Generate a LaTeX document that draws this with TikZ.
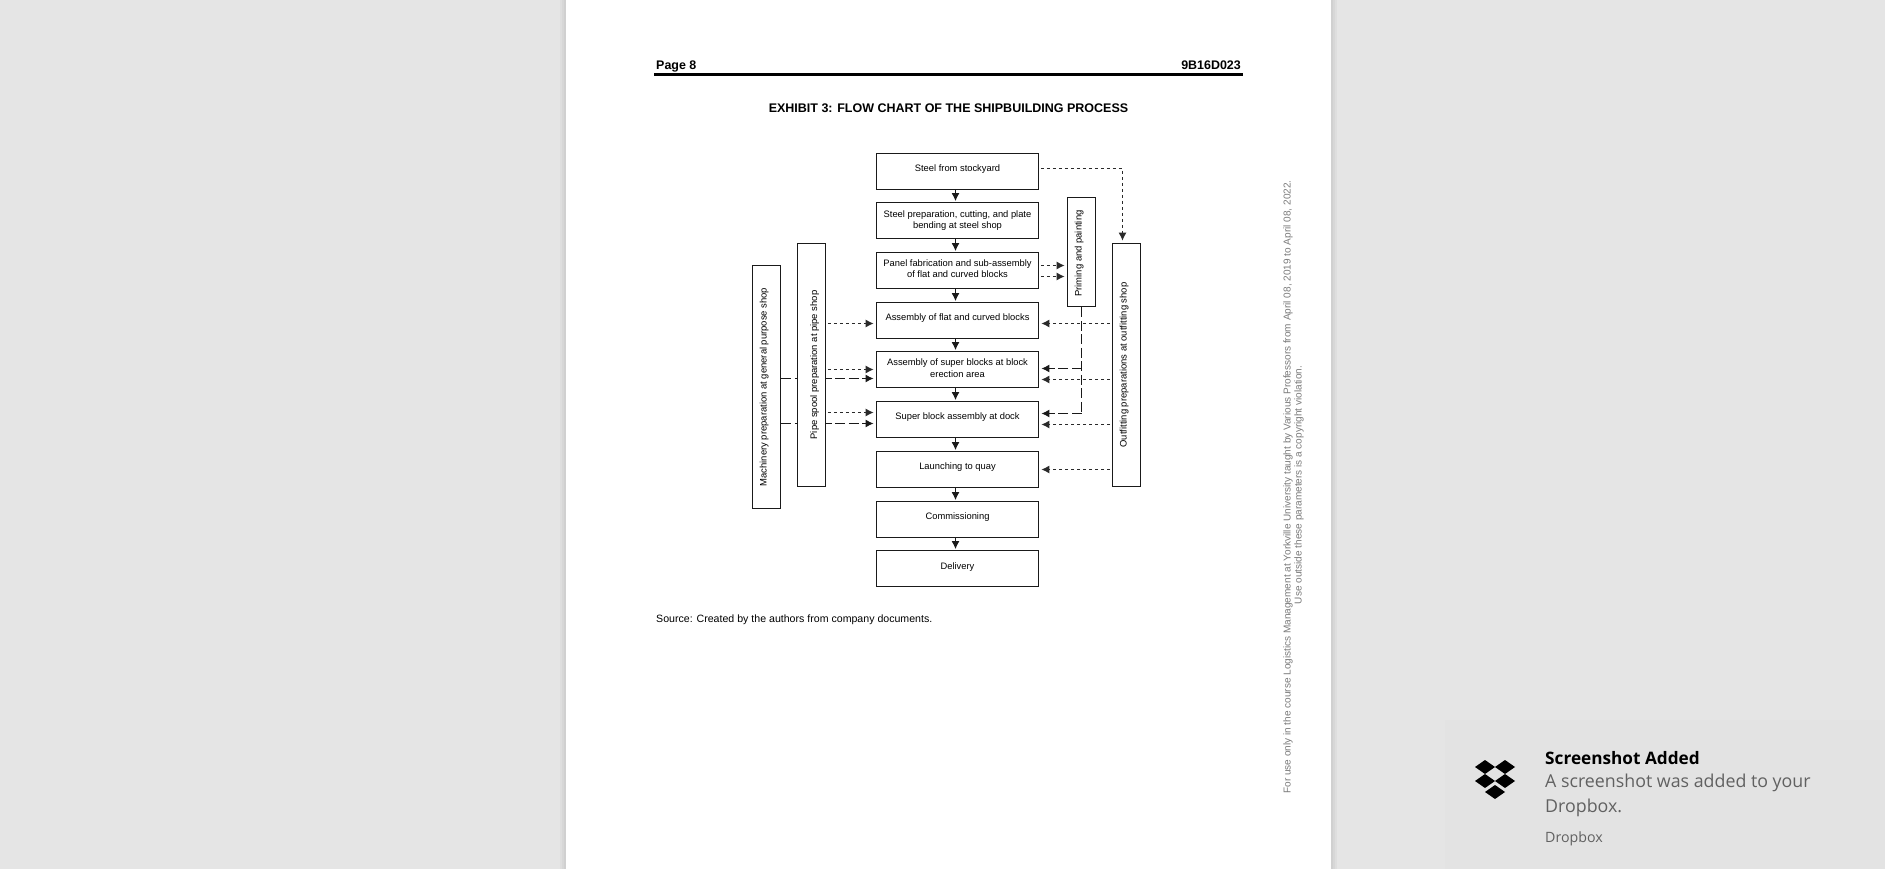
\documentclass[tikz,border=0pt]{standalone}
\usepackage{fontspec}
\setmainfont{Liberation Sans}
\newfontfamily\toastfont{Open Sans}
\usetikzlibrary{arrows.meta}
\definecolor{bggray}{HTML}{E5E5E5}
\definecolor{toastgray}{HTML}{E3E3E3}
\definecolor{inkc}{HTML}{1A1A1A}
\definecolor{dashc}{HTML}{2A2A2A}
\tikzset{
  x=1pt,y=-1pt,
  box/.style={draw=inkc,line width=1.6pt,fill=white,inner sep=0pt,font=\fontsize{9.35}{11}\selectfont,text=black},
  mainone/.style={box,minimum width=162pt,minimum height=36pt,text depth=8pt,text height=8pt},
  maintwo/.style={box,minimum width=162pt,minimum height=36pt,align=center,text depth=3pt},
  sidebox/.style={box,minimum height=28pt,rotate=90,text depth=8pt,text height=8pt,font=\fontsize{9.45}{11}\selectfont},
  flow/.style={draw=inkc,line width=1.5pt,-{Latex[length=8pt,width=8pt]},shorten >=0.5pt},
  shortdash/.style={draw=dashc,line width=1.3pt,dash pattern=on 3.4pt off 2.6pt,-{Latex[length=8pt,width=8pt]},shorten <=1.5pt,shorten >=2pt},
  longdash/.style={draw=inkc,line width=1.5pt,dash pattern=on 10pt off 3.5pt,-{Latex[length=8pt,width=8pt]},shorten >=2pt},
  longplain/.style={draw=inkc,line width=1.5pt,dash pattern=on 10pt off 3.5pt},
  pagetext/.style={inner sep=0pt,text=black},
  wm/.style={inner sep=0pt,text=black!52,rotate=90,font=\fontsize{10.03}{12}\selectfont},
  toast/.style={inner sep=0pt,anchor=west,font=\toastfont},
  diam/.style={fill=black,draw=none},
}
\newcommand{\dropdiam}[2]{\fill[diam] (#1-10,#2) -- (#1,#2-7) -- (#1+10,#2) -- (#1,#2+7) -- cycle;}
\begin{document}
\begin{tikzpicture}
\useasboundingbox (0,0) rectangle (1885,869);
\fill[bggray] (0,0) rectangle (1885,869);
% page shadow
\fill[black!3!bggray] (560,0) rectangle (1337,869);
\fill[black!6!bggray] (562,0) rectangle (1335,869);
\fill[black!9!bggray] (564,0) rectangle (1333,869);
\fill[white] (566,0) rectangle (1331,869);
% toast
\fill[toastgray] (1445,720) rectangle (1885,869);
\node[toast,font=\toastfont\bfseries\fontsize{17.2}{20}\selectfont,text=black] (t1) at (1545,758.5) {Screenshot Added};
\node[toast,font=\toastfont\fontsize{17.8}{21}\selectfont,text=black!62] (t2) at (1545,783) {A screenshot was added to your};
\node[toast,font=\toastfont\fontsize{17.8}{21}\selectfont,text=black!62] (t3) at (1545,808) {Dropbox.};
\node[toast,font=\toastfont\fontsize{14.2}{17}\selectfont,text=black!62] (t4) at (1545,838.5) {Dropbox};
\dropdiam{1485}{767}\dropdiam{1505}{767}\dropdiam{1485}{781}\dropdiam{1505}{781}\dropdiam{1495}{792}
% header
\node[pagetext,anchor=base west,font=\bfseries\fontsize{12.45}{15}\selectfont] (pg) at (656,69.5) {Page 8};
\node[pagetext,anchor=base east,font=\bfseries\fontsize{12.45}{15}\selectfont] (code) at (1241,69.5) {9B16D023};
\coordinate (ruleL) at (654,74.5);
\coordinate (ruleR) at (1243,74.5);
\draw[black,line width=3pt] (ruleL) -- (ruleR);
\node[pagetext,font=\bfseries\fontsize{12.5}{15}\selectfont] (title) at (948.5,108.5) {EXHIBIT 3: FLOW CHART OF THE SHIPBUILDING PROCESS};
\node[pagetext,anchor=base west,font=\fontsize{10.6}{13}\selectfont] (src) at (656,622) {Source: Created by the authors from company documents.};
% watermark
\node[wm] (w1) at (1288,487) {For use only in the course Logistics Management at Yorkville University taught by Various Professors from April 08, 2019 to April 08, 2022.};
\node[wm] (w2) at (1299,485) {Use outside these parameters is a copyright violation.};
% main boxes
\node[mainone,text height=8.5pt,text depth=7.5pt] (b1) at (957.5,171.5) {Steel from stockyard};
\node[maintwo,text depth=2.5pt] (b2) at (957.5,220.5) {Steel preparation, cutting, and plate\\bending at steel shop};
\node[maintwo] (b3) at (957.5,270.5) {Panel fabrication and sub-assembly\\of flat and curved blocks};
\node[mainone] (b4) at (957.5,320.5) {Assembly of flat and curved blocks};
\node[maintwo,font=\fontsize{9.35}{12}\selectfont] (b5) at (957.5,369.5) {Assembly of super blocks at block\\erection area};
\node[mainone,text height=7.5pt,text depth=8.5pt] (b6) at (957.5,419.5) {Super block assembly at dock};
\node[mainone] (b7) at (957.5,469.5) {Launching to quay};
\node[mainone,text height=7.5pt,text depth=8.5pt] (b8) at (957.5,519.5) {Commissioning};
\node[mainone,text height=8.5pt,text depth=7.5pt] (b9) at (957.5,568.5) {Delivery};
% x position of the main flow
\coordinate (fx) at (955.5,0);
\foreach \a/\b in {b1/b2,b2/b3,b3/b4,b4/b5,b5/b6,b6/b7,b7/b8,b8/b9}{
  \draw[flow] (fx |- \a.south) -- (fx |- \b.north);
}
% machinery
\node[sidebox,minimum width=243pt] (mach) at (766.5,387) {Machinery preparation at general purpose shop};
\coordinate (m5) at (0,378.5);
\coordinate (m6) at (0,423.5);
\draw[longdash] (mach.south |- m5) -- (b5.west |- m5);
\draw[longdash] (mach.south |- m6) -- (b6.west |- m6);
% pipe
\node[sidebox,minimum width=243pt,text height=13pt,text depth=2pt] (pipe) at (811.5,365) {Pipe spool preparation at pipe shop};
\coordinate (p4) at (0,323.5);
\coordinate (p5) at (0,369.5);
\coordinate (p6) at (0,412.5);
\draw[shortdash] (pipe.south |- p4) -- (b4.west |- p4);
\draw[shortdash] (pipe.south |- p5) -- (b5.west |- p5);
\draw[shortdash] (pipe.south |- p6) -- (b6.west |- p6);
% priming
\node[sidebox,minimum width=109pt] (prim) at (1081.5,252) {Priming and painting\hspace*{3pt}};
\coordinate (q1) at (0,265.5);
\coordinate (q2) at (0,276.5);
\draw[shortdash] (b3.east |- q1) -- (prim.north |- q1);
\draw[shortdash] (b3.east |- q2) -- (prim.north |- q2);
\coordinate (r5) at (0,368.5);
\coordinate (r6) at (0,413.5);
\draw[longplain] (prim.west) -- (prim.west |- r6);
\draw[longdash] (prim.west |- r5) -- (b5.east |- r5);
\draw[longdash] (prim.west |- r6) -- (b6.east |- r6);
% outfitting
\node[sidebox,minimum width=243pt] (out) at (1126.5,365) {Outfitting preparations at outfitting shop};
\coordinate (o1) at (0,168.5);
\coordinate (o4) at (0,323.5);
\coordinate (o5) at (0,379.5);
\coordinate (o6) at (0,424.5);
\coordinate (o7) at (0,469.5);
\coordinate (ox) at (1122.5,0);
\draw[shortdash] (b1.east |- o1) -- (ox |- o1) -- (ox |- out.east);
\draw[shortdash] (out.north |- o4) -- (b4.east |- o4);
\draw[shortdash] (out.north |- o5) -- (b5.east |- o5);
\draw[shortdash] (out.north |- o6) -- (b6.east |- o6);
\draw[shortdash] (out.north |- o7) -- (b7.east |- o7);
\end{tikzpicture}
\end{document}
